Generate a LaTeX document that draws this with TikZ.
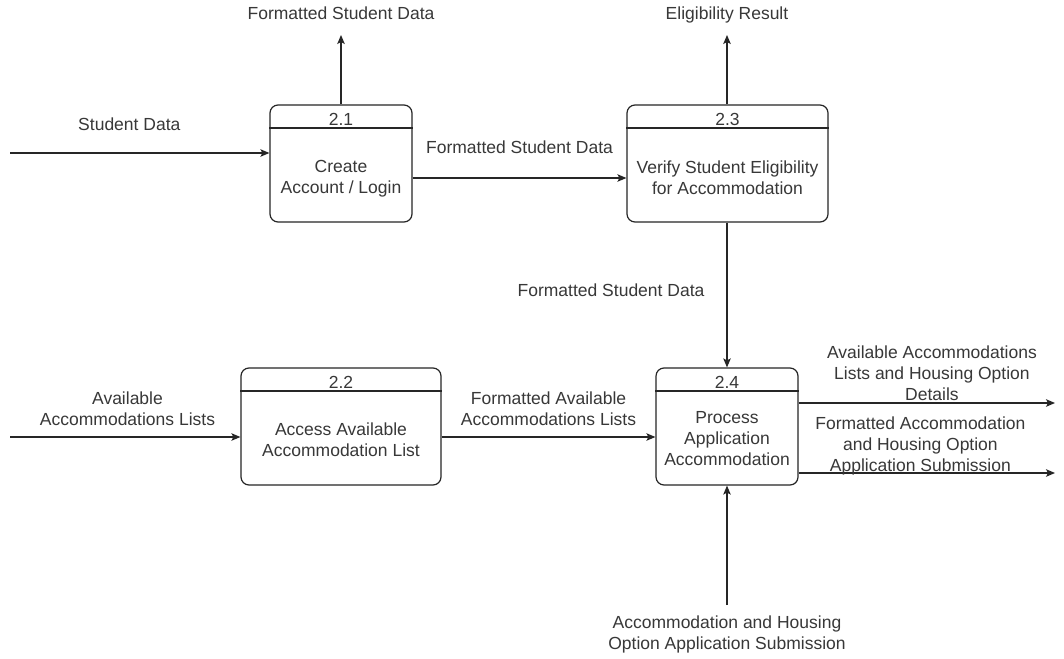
\documentclass[tikz,border=0pt]{standalone}
\usepackage{fontspec}
\setmainfont{Liberation Sans}
\usetikzlibrary{arrows.meta,positioning}

\begin{document}
\begin{tikzpicture}[x=1pt,y=-1pt,line width=1.2pt]
  % Colors
  \colorlet{linecolor}{black!85}
  \colorlet{textcolor}{black!78}

  % Styles
  \tikzstyle{process}=[draw=linecolor,rounded corners=8pt,inner sep=0pt,minimum height=117pt]
  \tikzstyle{flow}=[draw=linecolor,-{Stealth[length=9pt,width=7.5pt,inset=2pt]}]
  \tikzstyle{flow text}=[text=textcolor,align=center,inner sep=1pt,
    font=\fontsize{17.5}{21}\selectfont]

  % The graphic
  \useasboundingbox[fill=white] (0,0) rectangle (1064,658);

  % processes
  \node[process,minimum width=142pt] (p21) at (341,163.5) {};
  \node[process,minimum width=201pt] (p23) at (727.5,163.5) {};
  \node[process,minimum width=200pt] (p22) at (341,426.5) {};
  \node[process,minimum width=142pt] (p24) at (727,426.5) {};

  \foreach \p/\num in {p21/2.1,p23/2.3,p22/2.2,p24/2.4} {
    \draw[draw=linecolor] ([yshift=-23.5pt]\p.north west) -- ([yshift=-23.5pt]\p.north east);
    \node[flow text] (\p num) at ([yshift=-15pt]\p.north) {\num};
  }

  \node[flow text] (p21 text) at ([yshift=-15.5pt]p21.center) {Create\\Account / Login};
  \node[flow text] (p23 text) at ([yshift=-14.5pt]p23.center) {Verify Student Eligibility\\for Accommodation};
  \node[flow text] (p22 text) at ([yshift=-13pt]p22.center) {Access Available\\Accommodation List};
  \node[flow text] (p24 text) at ([yshift=-12.5pt]p24.center) {Process\\Application\\Accommodation};

  % free ends
  \coordinate (sd in) at (10,153);
  \coordinate (al in) at (10,437);
  \coordinate (p21 out) at (341,35);
  \coordinate (p23 out) at (727,35);
  \coordinate (p24 out a) at (1055,403);
  \coordinate (p24 out b) at (1055,473);
  \coordinate (ap in) at (727,605);

  % flows
  \draw[flow] (sd in) -- node[flow text,pos=0.46,yshift=29pt] {Student Data} (sd in -| p21.west);
  \draw[flow] (p21.north) -- (p21 out) node[flow text,yshift=22pt] {Formatted Student Data};
  \draw[flow] (p21.east |- 0,178) -- node[flow text,yshift=31pt] {Formatted Student Data} (p23.west |- 0,178);
  \draw[flow] (p23 out |- p23.north) -- (p23 out) node[flow text,yshift=20pt] {Eligibility Result};
  \draw[flow] (p24.north |- p23.south) -- node[flow text,pos=0.47,left=21pt] {Formatted Student Data} (p24.north);

  \draw[flow] (al in) -- node[flow text,pos=0.51,yshift=28pt] {Available\\Accommodations Lists} (al in -| p22.west);
  \draw[flow] (p22.east |- al in) -- node[flow text,yshift=28pt] {Formatted Available\\Accommodations Lists} (p24.west |- al in);

  \draw[flow] (p24.east |- p24 out a) -- node[flow text,pos=0.52,yshift=30pt]
    {Available Accommodations\\Lists and Housing Option\\Details} (p24 out a);
  \draw[flow] (p24.east |- p24 out b) -- node[flow text,pos=0.475,yshift=27pt]
    {Formatted Accommodation\\and Housing Option\\Application Submission} (p24 out b);

  \draw[flow] (ap in) -- (p24.south);
  \node[flow text,yshift=-29pt] (ap text) at (ap in) {Accommodation and Housing\\Option Application Submission};
\end{tikzpicture}
\end{document}
